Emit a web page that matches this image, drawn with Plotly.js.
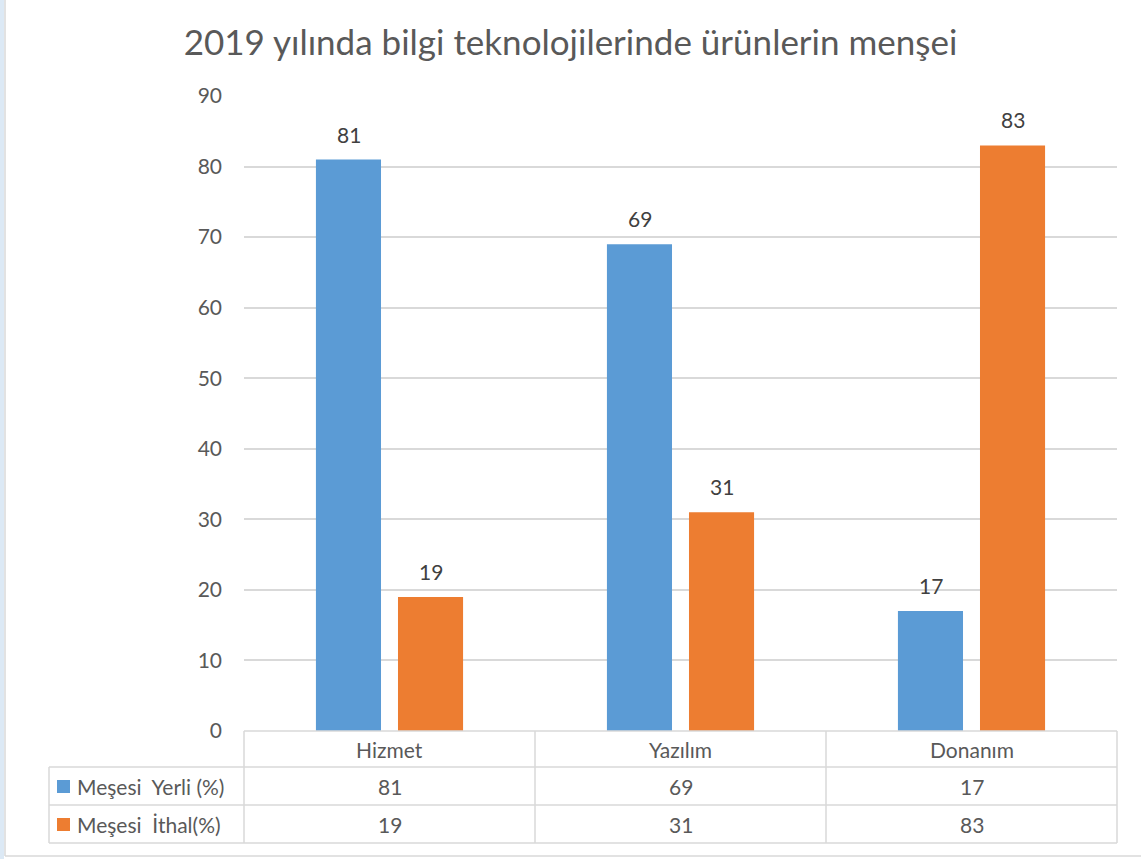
<!DOCTYPE html>
<html>
<head>
<meta charset="utf-8">
<script src="https://cdn.plot.ly/plotly-3.0.1.min.js"></script>
<style>
  html, body { margin: 0; padding: 0; background: #fff; }
  #chart { width: 1141px; height: 859px; }
</style>
</head>
<body>
<div id="chart"></div>
<script>
// categories and series
const categories = ['Hizmet', 'Yazılım', 'Donanım'];
const seriesNames = ['Meşesi&nbsp; Yerli (%)', 'Meşesi&nbsp; İthal(%)'];
const yerli = [81, 69, 17];
const ithal = [19, 31, 83];
const colors = ['#5b9bd5', '#ed7d31'];
const yTicks = [0, 10, 20, 30, 40, 50, 60, 70, 80, 90];

// plot area in pixels
const W = 1141, H = 859;
const L = 244, R = 1117, T = 96, B = 731;
const px = p => (p - L) / (R - L);
const py = p => (B - p) / (B - T);

const font = 'Lato, "Open Sans", sans-serif';
const textCol = '#595959';
const gridCol = '#d9d9d9';

const traces = [yerli, ithal].map((vals, i) => ({
  type: 'bar',
  x: categories,
  y: vals,
  name: seriesNames[i],
  marker: { color: colors[i] },
  hoverinfo: 'x+y',
}));

// data table grid
const rowTop = [731, 767, 805, 843];
const colEdges = [244, 535, 826, 1117];
const shapes = [];
const line = (x0, y0, x1, y1) => shapes.push({
  type: 'line', xref: 'paper', yref: 'paper',
  x0: px(x0), y0: py(y0), x1: px(x1), y1: py(y1),
  line: { color: gridCol, width: 1.5 }
});
line(L, rowTop[0], R, rowTop[0]);
for (let r = 1; r < rowTop.length; r++) line(49, rowTop[r], R, rowTop[r]);
colEdges.forEach(x => line(x, rowTop[0], x, rowTop[3]));
line(49, rowTop[1], 49, rowTop[3]);

// outer frame
shapes.push({ type: 'rect', xref: 'paper', yref: 'paper',
  x0: px(0), x1: px(4), y0: py(0), y1: py(H), fillcolor: '#dce9f5', line: { width: 0 }, layer: 'below' });
line(5, 0, 5, 856);
line(5, 856, W, 856);

const annotations = [];
// value labels above bars
[yerli, ithal].forEach((vals, i) => {
  vals.forEach((v, j) => annotations.push({
    x: categories[j], y: v, xref: 'x', yref: 'y',
    xshift: i === 0 ? -41 : 41, yshift: 11, yanchor: 'bottom',
    text: String(v), showarrow: false,
    font: { family: font, size: 21, color: '#404040' }
  }));
});
// table body
[yerli, ithal].forEach((vals, i) => {
  const mid = (rowTop[i + 1] + rowTop[i + 2]) / 2;
  const cy = py(mid);
  shapes.push({ type: 'rect', xref: 'paper', yref: 'paper',
    x0: px(57), x1: px(70), y0: py(mid - 6), y1: py(mid + 7),
    fillcolor: colors[i], line: { width: 0 } });
  annotations.push({
    x: px(75), y: cy, xref: 'paper', yref: 'paper', xanchor: 'left', yanchor: 'middle',
    text: seriesNames[i],
    showarrow: false, font: { family: font, size: 21, color: textCol }
  });
  vals.forEach((v, j) => annotations.push({
    x: categories[j], y: cy, xref: 'x', yref: 'paper', yanchor: 'middle',
    text: String(v), showarrow: false,
    font: { family: font, size: 21, color: textCol }
  }));
});
// header row
categories.forEach(c => annotations.push({
  x: c, y: py((rowTop[0] + rowTop[1]) / 2), xref: 'x', yref: 'paper', yanchor: 'middle',
  text: c, showarrow: false, font: { family: font, size: 21, color: textCol }
}));

const layout = {
  width: W, height: H,
  margin: { l: L, r: W - R, t: T, b: H - B },
  paper_bgcolor: '#fff', plot_bgcolor: '#fff',
  title: {
    text: '2019 yılında bilgi teknolojilerinde ürünlerin menşei',
    font: { family: font, size: 35, color: textCol },
    x: 0.5, xanchor: 'center', y: 1 - 43 / H, yanchor: 'middle'
  },
  showlegend: false,
  barmode: 'group',
  bargap: 0.436,
  bargroupgap: 0.207,
  xaxis: { showticklabels: false, showgrid: false, zeroline: false, showline: false, ticks: '' },
  yaxis: {
    range: [0, 90], tickvals: yTicks, showgrid: true, gridcolor: gridCol, gridwidth: 1.5,
    zeroline: false, showline: false, ticks: '', ticklabelstandoff: 21,
    tickfont: { family: font, size: 21, color: textCol }
  },
  shapes: shapes,
  annotations: annotations,
};

Plotly.newPlot('chart', traces, layout, { displayModeBar: false });
</script>
</body>
</html>
